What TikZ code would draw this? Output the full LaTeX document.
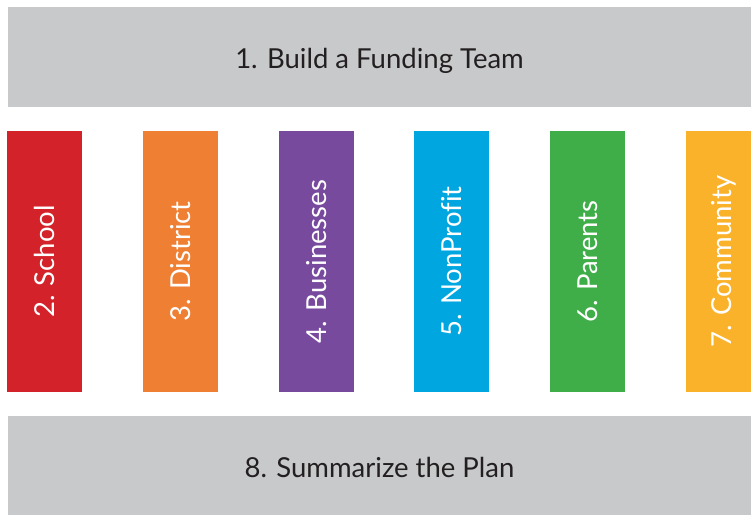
\documentclass[tikz,border=0pt]{standalone}
\usepackage{fontspec}
\setmainfont{Lato}[Ligatures=NoCommon]
\definecolor{barGray}{HTML}{C8C9CB}
\definecolor{labelInk}{HTML}{231F20}
\definecolor{schoolRed}{HTML}{D3222A}
\definecolor{districtOrange}{HTML}{EF7F33}
\definecolor{businessPurple}{HTML}{774A9E}
\definecolor{nonprofitBlue}{HTML}{00A6E0}
\definecolor{parentsGreen}{HTML}{3FAE49}
\definecolor{communityYellow}{HTML}{FBB22B}
\tikzset{
  stepbar/.style={fill=barGray, minimum width=743pt, minimum height=100pt,
    inner sep=0pt, text height=30pt, text depth=6pt, text=labelInk,
    font=\fontsize{27.5}{32}\selectfont},
  partner/.style={minimum width=75pt, minimum height=261pt, inner sep=0pt,
    text=white, font=\fontsize{27.5}{32}\selectfont}
}
\begin{document}
\begin{tikzpicture}[x=1pt,y=-1pt]
    \useasboundingbox (0,0) rectangle (751,514);
    % the two steps framing the partners
    \node[stepbar] (build) at (379.5,56.5) {1. Build a Funding Team};
    \node[stepbar] (summarize) at (379.5,465.5) {8. Summarize the Plan};
    % one column per funding partner
    \foreach \name/\col/\txt [count=\i] in {school/schoolRed/2. School,
        district/districtOrange/3. District,
        businesses/businessPurple/4. Businesses,
        nonprofit/nonprofitBlue/5. NonProfit,
        parents/parentsGreen/6. Parents,
        community/communityYellow/7. Community}
        \node[partner, fill=\col] (\name) at ({44.5+135.8*(\i-1)},261.5) {\rotatebox{90}{\txt}};
\end{tikzpicture}
\end{document}
